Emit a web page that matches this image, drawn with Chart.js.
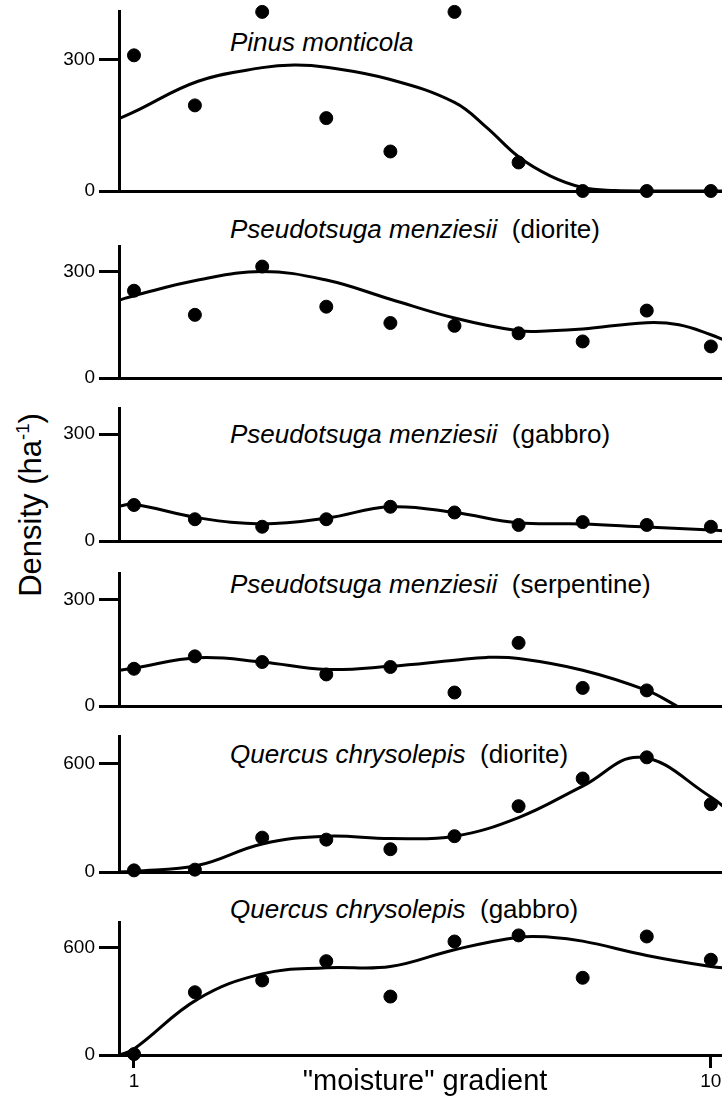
<!DOCTYPE html>
<html lang="en">

<head>
    <meta charset="UTF-8">
    <title>Density along moisture gradient</title>
    <script src="https://cdn.jsdelivr.net/npm/chart.js"></script>
    <style>
        html,
        body {
            margin: 0;
            padding: 0;
            background: #fff;
        }

        body {
            position: relative;
            width: 722px;
            height: 1096px;
            overflow: hidden;
            font-family: "Liberation Sans", Arial, sans-serif;
            color: #000;
        }

        canvas {
            position: absolute;
            left: 0;
        }

        .ttl {
            position: absolute;
            left: 230px;
            font-size: 26px;
            line-height: 1;
            white-space: pre;
        }

        #ylabel {
            position: absolute;
            left: 30px;
            top: 505px;
            font-size: 31px;
            line-height: 1;
            white-space: nowrap;
            transform: translate(-50%, -50%) rotate(-90deg);
        }

        #ylabel sup {
            font-size: 0.6em;
            line-height: 0;
        }
    </style>
</head>

<body>
    <div id="ylabel">Density (ha<sup>-1</sup>)</div>

    <div class="ttl" style="top:29px"><i>Pinus monticola</i></div>
    <div class="ttl" style="top:216px"><i>Pseudotsuga menziesii</i>  (diorite)</div>
    <div class="ttl" style="top:421px"><i>Pseudotsuga menziesii</i>  (gabbro)</div>
    <div class="ttl" style="top:571px"><i>Pseudotsuga menziesii</i>  (serpentine)</div>
    <div class="ttl" style="top:741px"><i>Quercus chrysolepis</i>  (diorite)</div>
    <div class="ttl" style="top:896px"><i>Quercus chrysolepis</i>  (gabbro)</div>

    <canvas id="c1"></canvas>
    <canvas id="c2"></canvas>
    <canvas id="c3"></canvas>
    <canvas id="c4"></canvas>
    <canvas id="c5"></canvas>
    <canvas id="c6"></canvas>

    <script>
        // sample positions on the moisture gradient
        const moisture = [1, 1.95, 3, 4, 5, 6, 7, 8, 9, 10];
        const xTicks = [1, 10];

        // observed densities (dots)
        const pinusDots = [309, 195, 408, 166, 90, 408, 65, 0, 0, 0];
        const psmeDioriteDots = [246, 178, 314, 201, 155, 147, 126, 103, 190, 89];
        const psmeGabbroDots = [101, 61, 40, 61, 96, 80, 45, 53, 45, 40];
        const psmeSerpDots = [105, 140, 124, 89, 110, 38, 178, 51, 44, null];
        const qucrDioriteDots = [9, 13, 190, 179, 126, 198, 364, 517, 634, 375];
        const qucrGabbroDots = [5, 351, 417, 525, 327, 635, 669, 432, 663, 533];

        // fitted curves
        const pinusCurveX = [0.77, 1, 2, 3, 3.5, 4, 5, 6, 6.5, 7, 7.5, 8, 8.5, 9, 10, 10.3];
        const pinusCurveY = [165, 180, 250, 281, 287, 282, 254, 202, 145, 78, 34, 8, 1, 0, 0, 0];
        const psmeDioriteCurveX = [0.77, 1, 2, 3, 4, 5, 6, 7, 7.5, 8, 9, 9.5, 10, 10.3];
        const psmeDioriteCurveY = [220, 232, 276, 300, 276, 222, 169, 133, 133, 138, 156, 150, 122, 100];
        const psmeGabbroCurveX = [0.77, 1, 2, 3, 4, 5, 6, 7, 8, 9, 10, 10.3];
        const psmeGabbroCurveY = [98, 103, 65, 48, 64, 96, 80, 51, 48, 39, 31, 27];
        const psmeSerpCurveX = [0.77, 1, 2, 3, 4, 5, 6, 6.5, 7, 8, 9, 9.47];
        const psmeSerpCurveY = [101, 107, 136, 124, 103, 112, 129, 137, 134, 101, 44, 0];
        const qucrDioriteCurveX = [0.77, 1, 2, 3, 4, 5, 6, 7, 8, 8.9, 10, 10.3];
        const qucrDioriteCurveY = [0, 3, 37, 155, 198, 185, 198, 301, 475, 634, 415, 330];
        const qucrGabbroCurveX = [0.77, 1, 2, 3, 4, 5, 6, 7, 7.5, 8, 9, 10, 10.3];
        const qucrGabbroCurveY = [0, 34, 314, 454, 488, 495, 589, 659, 659, 637, 557, 495, 485];

        const font = '"Liberation Sans", Arial, sans-serif';
        const xMin = 0.766;
        const xMax = 10.314;
        const padTop = 18;

        const panels = [
            { id: 'c1', dots: pinusDots, cx: pinusCurveX, cy: pinusCurveY, yMax: 410, yTick: 300, top: 11, bottom: 191 },
            { id: 'c2', dots: psmeDioriteDots, cx: psmeDioriteCurveX, cy: psmeDioriteCurveY, yMax: 372, yTick: 300, top: 246, bottom: 378 },
            { id: 'c3', dots: psmeGabbroDots, cx: psmeGabbroCurveX, cy: psmeGabbroCurveY, yMax: 373, yTick: 300, top: 408, bottom: 541 },
            { id: 'c4', dots: psmeSerpDots, cx: psmeSerpCurveX, cy: psmeSerpCurveY, yMax: 375, yTick: 300, top: 573, bottom: 706 },
            { id: 'c5', dots: qucrDioriteDots, cx: qucrDioriteCurveX, cy: qucrDioriteCurveY, yMax: 752, yTick: 600, top: 736, bottom: 872 },
            { id: 'c6', dots: qucrGabbroDots, cx: qucrGabbroCurveX, cy: qucrGabbroCurveY, yMax: 744, yTick: 600, top: 922, bottom: 1055 }
        ];

        panels.forEach((p, i) => {
            const last = i === panels.length - 1;
            const xH = last ? 1096 - p.bottom : 10;
            const canvas = document.getElementById(p.id);
            canvas.width = 731;
            canvas.height = padTop + (p.bottom - p.top) + xH;
            canvas.style.top = (p.top - padTop) + 'px';

            new Chart(canvas, {
                type: 'scatter',
                data: {
                    datasets: [{
                        data: moisture.map((x, k) => ({ x: x, y: p.dots[k] })).filter(d => d.y !== null),
                        pointRadius: 6.5,
                        pointBorderWidth: 1,
                        backgroundColor: '#000',
                        borderColor: '#000',
                        clip: false
                    }, {
                        data: p.cx.map((x, k) => ({ x: x, y: p.cy[k] })),
                        showLine: true,
                        pointRadius: 0,
                        borderColor: '#000',
                        borderWidth: 3,
                        tension: 0.4
                    }]
                },
                options: {
                    responsive: false,
                    animation: false,
                    layout: { autoPadding: false, padding: { top: padTop, left: 0, right: 0, bottom: 0 } },
                    plugins: { legend: { display: false }, tooltip: { enabled: false } },
                    scales: {
                        x: {
                            type: 'linear',
                            min: xMin,
                            max: xMax,
                            afterBuildTicks: s => { s.ticks = xTicks.map(v => ({ value: v })); },
                            afterFit: s => { s.height = xH; s.paddingLeft = 0; s.paddingRight = 0; },
                            ticks: { display: last, color: '#000', padding: 2, font: { family: font, size: 19 } },
                            grid: { display: last, drawOnChartArea: false, tickLength: 13, tickWidth: 3, color: '#000' },
                            border: { display: true, width: 3, color: '#000' },
                            title: {
                                display: last,
                                text: '"moisture" gradient',
                                color: '#000',
                                padding: 0,
                                font: { family: font, size: 29, lineHeight: 1 }
                            }
                        },
                        y: {
                            min: 0,
                            max: p.yMax,
                            afterBuildTicks: s => { s.ticks = [{ value: 0 }, { value: p.yTick }]; },
                            afterFit: s => { s.width = 119; s.paddingTop = 0; s.paddingBottom = 0; },
                            ticks: { color: '#000', padding: 4, font: { family: font, size: 19 } },
                            grid: { drawOnChartArea: false, tickLength: 20, tickWidth: 3, color: '#000' },
                            border: { display: true, width: 3, color: '#000' }
                        }
                    }
                }
            });
        });
    </script>
</body>

</html>
